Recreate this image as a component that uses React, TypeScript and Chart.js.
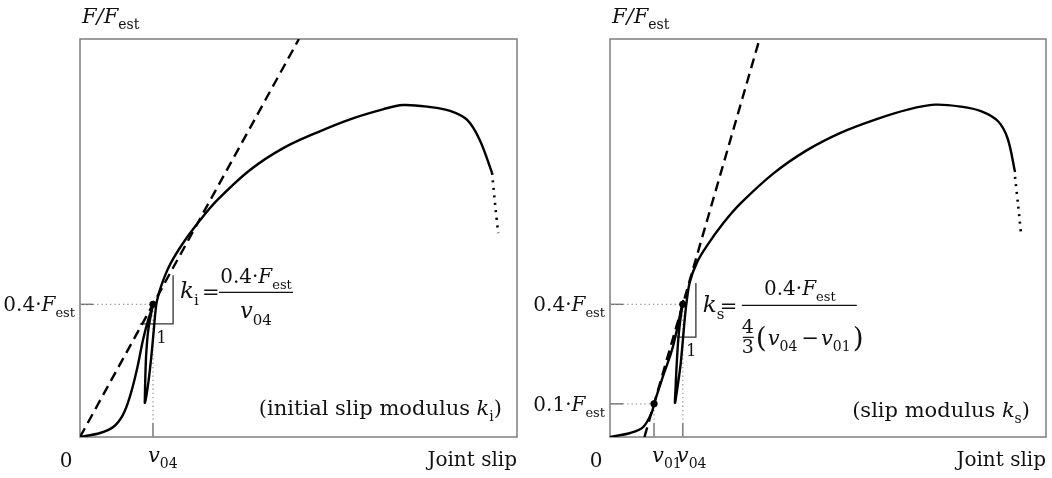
import React, { useEffect, useRef } from "react";
import { Chart, registerables } from "chart.js";
Chart.register(...registerables);

const FONT = '"DejaVu Serif", serif';

// axis ranges (joint slip in arbitrary units, force as F/F_est)
const X_MIN = 0;
const X_MAX = 100;
const Y_MIN = 0;
const Y_MAX = 1.2;

// characteristic levels and slips
const LEVEL_04 = 0.4;
const LEVEL_01 = 0.1;
const V04 = 16.7;
const V01 = 10.1;

// left panel: load-slip curve (solid part)
const leftSlip = [0, 4.6, 7.6, 9.8, 11.4, 13.0, 14.4, 15.6, 16.5, 16.9, 16.4, 15.6, 15.15, 14.95, 14.85, 14.85, 15.2, 15.7, 16.3, 16.8, 17.2, 17.6, 18.7, 20.6, 23.6, 27.5, 31.4, 38.9, 46.5, 54.2, 61.8, 69.3, 73.9, 80.1, 84.7, 88.6, 91.5, 94.3];
const leftForce = [0, 0.012, 0.03, 0.066, 0.121, 0.202, 0.292, 0.353, 0.389, 0.407, 0.38, 0.32, 0.25, 0.18, 0.12, 0.103, 0.125, 0.17, 0.24, 0.31, 0.37, 0.41, 0.46, 0.52, 0.585, 0.654, 0.714, 0.805, 0.871, 0.918, 0.958, 0.988, 1.001, 0.995, 0.983, 0.956, 0.895, 0.796];
// left panel: dotted tail
const leftTailSlip = [94.3, 95.0, 95.7];
const leftTailForce = [0.796, 0.7, 0.615];
// left panel: slope triangle
const leftTriSlip = [13.7, 21.3, 21.3];
const leftTriForce = [0.341, 0.341, 0.488];

// right panel: load-slip curve (solid part)
const rightSlip = [0, 4.6, 7.6, 9.6, 10.1, 12.1, 14.4, 16.5, 16.8, 16.3, 15.7, 15.3, 15.05, 14.9, 15.2, 15.7, 16.2, 16.7, 17.1, 17.5, 18.3, 19.9, 22.1, 26.0, 30.0, 37.5, 45.2, 53.0, 61.0, 68.5, 74.5, 80.5, 85.2, 89.0, 91.2, 92.9];
const rightForce = [0, 0.012, 0.03, 0.075, 0.1, 0.181, 0.271, 0.395, 0.41, 0.37, 0.3, 0.22, 0.15, 0.103, 0.125, 0.17, 0.22, 0.29, 0.35, 0.4, 0.467, 0.525, 0.574, 0.645, 0.705, 0.795, 0.865, 0.918, 0.958, 0.988, 1.002, 0.996, 0.982, 0.952, 0.9, 0.799];
// right panel: dotted tail
const rightTailSlip = [92.9, 93.6, 94.3];
const rightTailForce = [0.784, 0.7, 0.609];
// right panel: slope triangle
const rightTriSlip = [15.3, 19.7, 19.7];
const rightTriForce = [0.301, 0.301, 0.464];

const zip = (xs: number[], ys: number[]) => xs.map((x, i) => ({ x, y: ys[i] }));

type Part = { t: string; it?: boolean; sub?: boolean; size?: number; gap?: number };

function partFont(p: Part, base: number) {
  const size = p.size ?? (p.sub ? Math.round(base * 0.66) : base);
  return `${p.it ? "italic " : ""}${size}px ${FONT}`;
}

function partWidth(ctx: CanvasRenderingContext2D, p: Part, base: number) {
  if (p.gap !== undefined) return p.gap;
  ctx.font = partFont(p, base);
  return ctx.measureText(p.t).width;
}

function drawRich(
  ctx: CanvasRenderingContext2D,
  parts: Part[],
  x: number,
  y: number,
  align: "left" | "right" | "center" = "left",
  base = 20
) {
  let w = 0;
  for (const p of parts) w += partWidth(ctx, p, base);
  let cx = align === "left" ? x : align === "right" ? x - w : x - w / 2;
  ctx.textAlign = "left";
  ctx.textBaseline = "alphabetic";
  for (const p of parts) {
    if (p.gap === undefined) {
      ctx.font = partFont(p, base);
      ctx.fillText(p.t, cx, y + (p.sub ? Math.round(base * 0.3) : 0));
    }
    cx += partWidth(ctx, p, base);
  }
  return cx;
}

const F_EST: Part[] = [{ t: "F", it: true }, { t: "est", sub: true }];

function line(ctx: CanvasRenderingContext2D, x1: number, y1: number, x2: number, y2: number) {
  ctx.beginPath();
  ctx.moveTo(x1, y1);
  ctx.lineTo(x2, y2);
  ctx.stroke();
}

function makeDecorPlugin(side: "left" | "right") {
  return {
    id: "decor-" + side,
    beforeDatasetsDraw(chart: any) {
      const { ctx, chartArea: a } = chart;
      const xs = chart.scales.x;
      const ys = chart.scales.y;
      ctx.save();
      ctx.strokeStyle = "#7d7d7d";
      ctx.lineWidth = 1.5;
      ctx.strokeRect(a.left, a.top, a.right - a.left, a.bottom - a.top);
      // solid ticks
      ctx.strokeStyle = "#6e6e6e";
      ctx.lineWidth = 1.4;
      const yTicks = side === "left" ? [LEVEL_04] : [LEVEL_04, LEVEL_01];
      const xTicks = side === "left" ? [V04] : [V04, V01];
      for (const v of yTicks) {
        const py = ys.getPixelForValue(v);
        line(ctx, a.left, py, a.left + 13, py);
      }
      for (const v of xTicks) {
        const px = xs.getPixelForValue(v);
        line(ctx, px, a.bottom, px, a.bottom - 14);
      }
      ctx.restore();
    },
    afterDraw(chart: any) {
      const { ctx, chartArea: a } = chart;
      const xs = chart.scales.x;
      const ys = chart.scales.y;
      const ax = xs.getPixelForValue(V04);
      const ay = ys.getPixelForValue(LEVEL_04);
      ctx.save();
      ctx.fillStyle = "#111";
      ctx.strokeStyle = "#111";
      // axis titles
      drawRich(ctx, [{ t: "F/F", it: true }, { t: "est", sub: true }], a.left + 2, a.top - 16, "left", 21);
      drawRich(ctx, [{ t: "Joint slip" }], a.right, a.bottom + 29, "right", 20);
      drawRich(ctx, [{ t: "0" }], a.left - 14, a.bottom + 30, "center", 20);
      // y level labels
      drawRich(ctx, [{ t: "0.4·" }, ...F_EST], a.left - 5, ay + 7, "right", 20);
      if (side === "right") {
        const ay1 = ys.getPixelForValue(LEVEL_01);
        drawRich(ctx, [{ t: "0.1·" }, ...F_EST], a.left - 5, ay1 + 7, "right", 20);
      }
      // x labels
      if (side === "left") {
        drawRich(ctx, [{ t: "v", it: true }, { t: "04", sub: true }], ax - 5, a.bottom + 25, "left", 21);
      } else {
        const bx = xs.getPixelForValue(V01);
        drawRich(ctx, [{ t: "v", it: true }, { t: "01", sub: true }], bx - 2, a.bottom + 25, "left", 21);
        drawRich(ctx, [{ t: "v", it: true }, { t: "04", sub: true }], ax - 6, a.bottom + 25, "left", 21);
      }
      // triangle "1"
      const tri = side === "left" ? leftTriSlip : rightTriSlip;
      const triY = side === "left" ? leftTriForce[0] : rightTriForce[0];
      const tx = (xs.getPixelForValue(tri[0]) + xs.getPixelForValue(tri[1])) / 2 + 5;
      drawRich(ctx, [{ t: "1" }], tx, ys.getPixelForValue(triY) + 19, "center", 16);
      ctx.lineWidth = 1.2;
      if (side === "left") {
        drawRich(ctx, [{ t: "k", it: true }, { t: "i", sub: true }], ax + 27, ay - 6, "left", 23);
        drawRich(ctx, [{ t: "=" }], ax + 49, ay - 5, "left", 21);
        line(ctx, ax + 66, ay - 12, ax + 140, ay - 12);
        drawRich(ctx, [{ t: "0.4·" }, ...F_EST], ax + 103, ay - 21, "center", 20);
        drawRich(ctx, [{ t: "v", it: true }, { t: "04", sub: true }], ax + 103, ay + 14, "center", 22);
        drawRich(ctx, [{ t: "(initial slip modulus " }, { t: "k", it: true }, { t: "i", sub: true }, { t: ")" }], a.right - 15, a.bottom - 22, "right", 21);
      } else {
        drawRich(ctx, [{ t: "k", it: true }, { t: "s", sub: true }], ax + 20, ay + 8, "left", 23);
        drawRich(ctx, [{ t: "=" }], ax + 37, ay + 9, "left", 21);
        line(ctx, ax + 59, ay + 1, ax + 174, ay + 1);
        drawRich(ctx, [{ t: "0.4·" }, ...F_EST], ax + 117, ay - 9, "center", 20);
        drawRich(ctx, [{ t: "4" }], ax + 65, ay + 29, "center", 19);
        line(ctx, ax + 60, ay + 33, ax + 71, ay + 33);
        drawRich(ctx, [{ t: "3" }], ax + 65, ay + 49, "center", 19);
        const px = drawRich(ctx, [{ t: "(", size: 28 }], ax + 73, ay + 43, "left", 20);
        const ex = drawRich(
          ctx,
          [
            { t: "v", it: true },
            { t: "04", sub: true },
            { t: "", gap: 4 },
            { t: "−" },
            { t: "", gap: 2 },
            { t: "v", it: true },
            { t: "01", sub: true },
          ],
          px + 1,
          ay + 41,
          "left",
          21
        );
        drawRich(ctx, [{ t: ")", size: 28 }], ex + 2, ay + 43, "left", 20);
        drawRich(ctx, [{ t: "(slip modulus " }, { t: "k", it: true }, { t: "s", sub: true }, { t: ")" }], a.right - 16, a.bottom - 20, "right", 21);
      }
      ctx.restore();
    },
  };
}

function buildDatasets(side: "left" | "right") {
  const curve = side === "left" ? zip(leftSlip, leftForce) : zip(rightSlip, rightForce);
  const tail = side === "left" ? zip(leftTailSlip, leftTailForce) : zip(rightTailSlip, rightTailForce);
  const tri = side === "left" ? zip(leftTriSlip, leftTriForce) : zip(rightTriSlip, rightTriForce);
  const slope = side === "left" ? LEVEL_04 / V04 : (LEVEL_04 - LEVEL_01) / (V04 - V01);
  const x0 = side === "left" ? 0 : V01 - LEVEL_01 / slope;
  const secant = [
    { x: x0, y: 0 },
    { x: x0 + Y_MAX / slope, y: Y_MAX },
  ];
  const dotted = { borderColor: "#9a9a9a", borderWidth: 1.3, borderDash: [1.3, 3], pointRadius: 0, showLine: true, tension: 0 };
  const refs: any[] = [
    { data: [{ x: 0, y: LEVEL_04 }, { x: V04, y: LEVEL_04 }], ...dotted },
    { data: [{ x: V04, y: 0 }, { x: V04, y: LEVEL_04 }], ...dotted },
  ];
  const points = [{ x: V04, y: LEVEL_04 }];
  if (side === "right") {
    refs.push({ data: [{ x: 0, y: LEVEL_01 }, { x: V01, y: LEVEL_01 }], ...dotted });
    refs.push({ data: [{ x: V01, y: 0 }, { x: V01, y: LEVEL_01 }], ...dotted });
    points.push({ x: V01, y: LEVEL_01 });
  }
  return [
    { data: points, pointRadius: 3.6, pointBackgroundColor: "#000", pointBorderWidth: 0, showLine: false },
    { data: curve, borderColor: "#000", borderWidth: 2.4, pointRadius: 0, showLine: true, tension: 0.35 },
    { data: tail, borderColor: "#000", borderWidth: 2.6, borderDash: [2, 5.5], pointRadius: 0, showLine: true, tension: 0.3 },
    { data: secant, borderColor: "#000", borderWidth: 2.4, borderDash: [10, 6], pointRadius: 0, showLine: true, tension: 0 },
    { data: tri, borderColor: "#333", borderWidth: 1.3, pointRadius: 0, showLine: true, tension: 0 },
    ...refs,
  ];
}

function Panel({ side, left, padding }: { side: "left" | "right"; left: number; padding: any }) {
  const ref = useRef<HTMLCanvasElement>(null);
  useEffect(() => {
    if (!ref.current) return;
    const chart = new Chart(ref.current, {
      type: "scatter",
      data: { datasets: buildDatasets(side) as any },
      options: {
        animation: false,
        responsive: false,
        devicePixelRatio: 1,
        layout: { padding },
        plugins: { legend: { display: false }, tooltip: { enabled: false }, title: { display: false } },
        events: [],
        scales: {
          x: { type: "linear", min: X_MIN, max: X_MAX, display: false },
          y: { type: "linear", min: Y_MIN, max: Y_MAX, display: false },
        },
      },
      plugins: [makeDecorPlugin(side)],
    });
    return () => chart.destroy();
  }, [side]);
  return (
    <canvas
      ref={ref}
      width={526}
      height={478}
      style={{ position: "absolute", left, top: 0, width: 526, height: 478 }}
    />
  );
}

export default function App() {
  return (
    <div style={{ position: "fixed", left: 0, top: 0, width: 1052, height: 478, background: "#fff" }}>
      <Panel side="left" left={0} padding={{ left: 80, top: 39, right: 9, bottom: 41 }} />
      <Panel side="right" left={526} padding={{ left: 84, top: 39, right: 6, bottom: 41 }} />
    </div>
  );
}
